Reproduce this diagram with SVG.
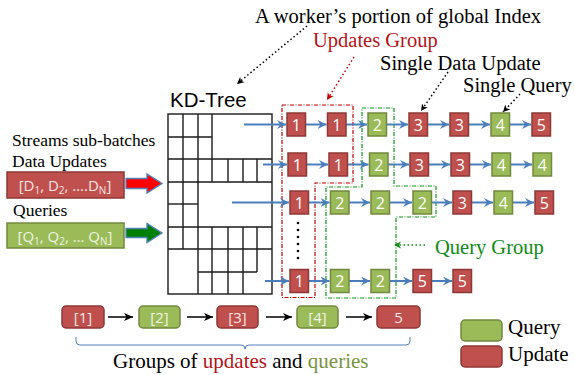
<svg xmlns="http://www.w3.org/2000/svg" width="574" height="375" viewBox="0 0 574 375">
<style>
.u{fill:#c0504d;stroke:#8c3836;stroke-width:1.5}
.q{fill:#9bbb59;stroke:#71893f;stroke-width:1.5}
.bt{font-family:"Open Sans","Liberation Sans",sans-serif;font-size:16px;fill:#fff;text-anchor:middle}
.lt{font-family:"Open Sans","Liberation Sans",sans-serif;font-size:15px;text-anchor:middle}
.sf{font-family:"Liberation Serif","Times New Roman",serif}
.flow{stroke:#4a7ebb;stroke-width:2;fill:none;marker-end:url(#ab)}
.blk{stroke:#000;stroke-width:1.5;fill:none;marker-end:url(#ak)}
.grid line{stroke:#1a1a1a;stroke-width:1.4}
.dot{stroke-width:1.5;stroke-dasharray:1.5 2.5;fill:none}
</style>
<defs>
<marker id="ab" markerUnits="userSpaceOnUse" markerWidth="10" markerHeight="9" refX="9" refY="4.5" orient="auto"><path d="M0,0 L9,4.5 L0,9 L3,4.5 z" fill="#4a7ebb"/></marker>
<marker id="ak" markerUnits="userSpaceOnUse" markerWidth="10" markerHeight="8" refX="9" refY="4" orient="auto"><path d="M0,0 L9,4 L0,8 L2.5,4 z" fill="#000"/></marker>
<marker id="dk" markerUnits="userSpaceOnUse" markerWidth="8" markerHeight="8" refX="7" refY="4" orient="auto"><path d="M0,0.5 L7,4 L0,7.5 L2,4 z" fill="#000"/></marker>
<marker id="dr" markerUnits="userSpaceOnUse" markerWidth="8" markerHeight="8" refX="7" refY="4" orient="auto"><path d="M0,0.5 L7,4 L0,7.5 L2,4 z" fill="#c00000"/></marker>
<marker id="dg" markerUnits="userSpaceOnUse" markerWidth="8" markerHeight="8" refX="7" refY="4" orient="auto"><path d="M0,0.5 L7,4 L0,7.5 L2,4 z" fill="#0e8a16"/></marker>
</defs>
<rect width="574" height="375" fill="#fff"/>

<!-- top labels -->
<g id="labels" class="sf">
<text x="255" y="23" font-size="20.5" fill="#000">A worker’s portion of global Index</text>
<text x="313" y="47" font-size="20.5" fill="#b3141a">Updates Group</text>
<text x="380" y="70" font-size="20.5" fill="#000">Single Data Update</text>
<text x="463" y="92" font-size="20.5" fill="#000">Single Query</text>
<text x="435" y="254" font-size="20.5" fill="#0e8a16">Query Group</text>
<text x="12" y="145.5" font-size="17.5" fill="#000">Streams sub-batches</text>
<text x="12" y="166.5" font-size="17.5" fill="#000">Data Updates</text>
<text x="13" y="216" font-size="17.5" fill="#000">Queries</text>
<text x="113" y="368" font-size="21" fill="#000">Groups of <tspan fill="#b3141a">updates</tspan> and <tspan fill="#77933c">queries</tspan></text>
</g>

<!-- KD-tree -->
<g id="kdtree">
<text x="170" y="106.5" font-family="Liberation Sans, Arial, sans-serif" font-size="20.5" fill="#000">KD-Tree</text>
<rect x="168" y="114" width="104" height="180" fill="#fff" stroke="#1a1a1a" stroke-width="1.4"/>
<g class="grid">
<line x1="168" y1="137" x2="212" y2="137"/>
<line x1="168" y1="159" x2="272" y2="159"/>
<line x1="168" y1="182" x2="272" y2="182"/>
<line x1="168" y1="204" x2="198" y2="204"/>
<line x1="168" y1="227" x2="272" y2="227"/>
<line x1="168" y1="249" x2="272" y2="249"/>
<line x1="198" y1="272" x2="257" y2="272"/>
<line x1="183" y1="114" x2="183" y2="249"/>
<line x1="198" y1="114" x2="198" y2="294"/>
<line x1="212" y1="114" x2="212" y2="182"/>
<line x1="212" y1="227" x2="212" y2="294"/>
<line x1="228" y1="159" x2="228" y2="182"/>
<line x1="228" y1="227" x2="228" y2="294"/>
<line x1="243" y1="159" x2="243" y2="182"/>
<line x1="243" y1="227" x2="243" y2="294"/>
<line x1="257" y1="159" x2="257" y2="182"/>
<line x1="257" y1="227" x2="257" y2="272"/>
</g>
</g>

<!-- input boxes -->
<g id="updates-in">
<rect x="7" y="172" width="117" height="26" class="u"/>
<text x="65" y="191" class="lt" fill="#f6e4e4">[D<tspan font-size="10" dy="3">1</tspan><tspan dy="-3">, D</tspan><tspan font-size="10" dy="3">2</tspan><tspan dy="-3">, ….D</tspan><tspan font-size="10" dy="3">N</tspan><tspan dy="-3">]</tspan></text>
<polygon points="126,178.5 147,178.5 147,174 162,183.5 147,193 147,188.5 126,188.5" fill="#ff0000" stroke="#4f81bd" stroke-width="1.3"/>
</g>
<g id="queries-in">
<rect x="7" y="223" width="117" height="25" class="q"/>
<text x="65" y="241.5" class="lt" fill="#eef3e2">[Q<tspan font-size="10" dy="3">1</tspan><tspan dy="-3">, Q</tspan><tspan font-size="10" dy="3">2</tspan><tspan dy="-3">, … Q</tspan><tspan font-size="10" dy="3">N</tspan><tspan dy="-3">]</tspan></text>
<polygon points="126,228.5 147,228.5 147,223.5 162,233 147,242.5 147,237.5 126,237.5" fill="#008000" stroke="#4f81bd" stroke-width="1.3"/>
</g>

<!-- groups -->
<g id="update-group">
<polygon points="282,105 353,105 353,183 315,183 315,297.5 282,297.5" fill="none" stroke="#c00000" stroke-width="1.2" stroke-dasharray="4 1.5 1 1.5"/>
</g>
<g id="query-group">
<polygon points="362,108 394,108 394,186 436,186 436,217 396,217 396,298 326,298 326,187 362,187" fill="none" stroke="#0e9a16" stroke-width="1.2" stroke-dasharray="4 1.5 1 1.5"/>
</g>

<!-- connectors -->
<g id="connectors">
<line x1="244" y1="124.5" x2="286" y2="124.5" class="flow"/>
<line x1="305.5" y1="124.5" x2="326.5" y2="124.5" class="flow"/>
<line x1="346" y1="124.5" x2="367" y2="124.5" class="flow"/>
<line x1="386.5" y1="124.5" x2="408" y2="124.5" class="flow"/>
<line x1="427.5" y1="124.5" x2="449" y2="124.5" class="flow"/>
<line x1="468.5" y1="124.5" x2="490" y2="124.5" class="flow"/>
<line x1="509.5" y1="124.5" x2="531" y2="124.5" class="flow"/>

<line x1="263" y1="164.5" x2="287" y2="164.5" class="flow"/>
<line x1="306.5" y1="164.5" x2="328" y2="164.5" class="flow"/>
<line x1="347.5" y1="164.5" x2="368.5" y2="164.5" class="flow"/>
<line x1="388" y1="164.5" x2="409" y2="164.5" class="flow"/>
<line x1="428.5" y1="164.5" x2="450" y2="164.5" class="flow"/>
<line x1="469.5" y1="164.5" x2="491" y2="164.5" class="flow"/>
<line x1="510.5" y1="164.5" x2="532" y2="164.5" class="flow"/>

<line x1="232" y1="202.5" x2="289" y2="202.5" class="flow"/>
<line x1="308.5" y1="202.5" x2="329.5" y2="202.5" class="flow"/>
<line x1="349" y1="202.5" x2="370" y2="202.5" class="flow"/>
<line x1="389.5" y1="202.5" x2="412" y2="202.5" class="flow"/>
<line x1="431.5" y1="202.5" x2="452" y2="202.5" class="flow"/>
<line x1="471.5" y1="202.5" x2="493" y2="202.5" class="flow"/>
<line x1="512.5" y1="202.5" x2="534" y2="202.5" class="flow"/>

<line x1="265" y1="281" x2="289" y2="281" class="flow"/>
<line x1="308.5" y1="281" x2="329.5" y2="281" class="flow"/>
<line x1="349" y1="281" x2="370" y2="281" class="flow"/>
<line x1="389.5" y1="281" x2="412" y2="281" class="flow"/>
<line x1="431.5" y1="281" x2="452" y2="281" class="flow"/>

<line x1="108" y1="317" x2="133" y2="317" class="blk"/>
<line x1="187" y1="317" x2="213" y2="317" class="blk"/>
<line x1="266" y1="317" x2="292" y2="317" class="blk"/>
<line x1="346" y1="317" x2="372" y2="317" class="blk"/>

<path d="M307,26 L237,84" class="dot" stroke="#000" marker-end="url(#dk)"/>
<path d="M354,57 L327,100" class="dot" stroke="#c00000" marker-end="url(#dr)"/>
<path d="M448,72 L421,111" class="dot" stroke="#000" marker-end="url(#dk)"/>
<path d="M520,94 L503,112" class="dot" stroke="#000" marker-end="url(#dk)"/>
<path d="M425,245 L394,245" class="dot" stroke="#0e8a16" marker-end="url(#dg)"/>

<path d="M76,337 L76,341 Q76,345 80,345 L241,345 Q245,345 245,349 Q245,345 249,345 L406,345 Q410,345 410,341 L410,337" fill="none" stroke="#4f81bd" stroke-width="1"/>
</g>

<!-- row 1 -->
<g id="r1n1"><rect x="287" y="113" width="18.5" height="23" class="u"/><text x="296.25" y="130.5" class="bt">1</text></g>
<g id="r1n2"><rect x="327.5" y="113" width="18.5" height="23" class="u"/><text x="336.75" y="130.5" class="bt">1</text></g>
<g id="r1n3"><rect x="368" y="113" width="18.5" height="23" class="q"/><text x="377.25" y="130.5" class="bt">2</text></g>
<g id="r1n4"><rect x="409" y="113" width="18.5" height="23" class="u"/><text x="418.25" y="130.5" class="bt">3</text></g>
<g id="r1n5"><rect x="450" y="113" width="18.5" height="23" class="u"/><text x="459.25" y="130.5" class="bt">3</text></g>
<g id="r1n6"><rect x="491" y="113" width="18.5" height="23" class="q"/><text x="500.25" y="130.5" class="bt">4</text></g>
<g id="r1n7"><rect x="532" y="113" width="18.5" height="23" class="u"/><text x="541.25" y="130.5" class="bt">5</text></g>
<!-- row 2 -->
<g id="r2n1"><rect x="288" y="153" width="18.5" height="23" class="u"/><text x="297.25" y="170.5" class="bt">1</text></g>
<g id="r2n2"><rect x="329" y="153" width="18.5" height="23" class="u"/><text x="338.25" y="170.5" class="bt">1</text></g>
<g id="r2n3"><rect x="369.5" y="153" width="18.5" height="23" class="q"/><text x="378.75" y="170.5" class="bt">2</text></g>
<g id="r2n4"><rect x="410" y="153" width="18.5" height="23" class="u"/><text x="419.25" y="170.5" class="bt">3</text></g>
<g id="r2n5"><rect x="451" y="153" width="18.5" height="23" class="u"/><text x="460.25" y="170.5" class="bt">3</text></g>
<g id="r2n6"><rect x="492" y="153" width="18.5" height="23" class="q"/><text x="501.25" y="170.5" class="bt">4</text></g>
<g id="r2n7"><rect x="533" y="153" width="18.5" height="23" class="q"/><text x="542.25" y="170.5" class="bt">4</text></g>
<!-- row 3 -->
<g id="r3n1"><rect x="290" y="191" width="18.5" height="23" class="u"/><text x="299.25" y="208.5" class="bt">1</text></g>
<g id="r3n2"><rect x="330.5" y="191" width="18.5" height="23" class="q"/><text x="339.75" y="208.5" class="bt">2</text></g>
<g id="r3n3"><rect x="371" y="191" width="18.5" height="23" class="q"/><text x="380.25" y="208.5" class="bt">2</text></g>
<g id="r3n4"><rect x="413" y="191" width="18.5" height="23" class="q"/><text x="422.25" y="208.5" class="bt">2</text></g>
<g id="r3n5"><rect x="453" y="191" width="18.5" height="23" class="u"/><text x="462.25" y="208.5" class="bt">3</text></g>
<g id="r3n6"><rect x="494" y="191" width="18.5" height="23" class="q"/><text x="503.25" y="208.5" class="bt">4</text></g>
<g id="r3n7"><rect x="535" y="191" width="18.5" height="23" class="u"/><text x="544.25" y="208.5" class="bt">5</text></g>
<!-- ellipsis -->
<g id="ellipsis" fill="#000">
<circle cx="298" cy="223" r="1.3"/><circle cx="298" cy="230" r="1.3"/><circle cx="298" cy="237" r="1.3"/><circle cx="298" cy="244" r="1.3"/><circle cx="298" cy="251" r="1.3"/><circle cx="298" cy="258" r="1.3"/>
</g>
<!-- row 4 -->
<g id="r4n1"><rect x="290" y="269.5" width="18.5" height="23" class="u"/><text x="299.25" y="287" class="bt">1</text></g>
<g id="r4n2"><rect x="330.5" y="269.5" width="18.5" height="23" class="q"/><text x="339.75" y="287" class="bt">2</text></g>
<g id="r4n3"><rect x="371" y="269.5" width="18.5" height="23" class="q"/><text x="380.25" y="287" class="bt">2</text></g>
<g id="r4n4"><rect x="413" y="269.5" width="18.5" height="23" class="u"/><text x="422.25" y="287" class="bt">5</text></g>
<g id="r4n5"><rect x="453" y="269.5" width="18.5" height="23" class="u"/><text x="462.25" y="287" class="bt">5</text></g>

<!-- bottom sequence -->
<g id="s1"><rect x="62" y="306" width="42" height="22" rx="4" class="u"/><text x="83" y="322.5" class="lt" fill="#f6e4e4">[1]</text></g>
<g id="s2"><rect x="139" y="306" width="41" height="22" rx="4" class="q"/><text x="159.5" y="322.5" class="lt" fill="#eef3e2">[2]</text></g>
<g id="s3"><rect x="217" y="306" width="41" height="22" rx="4" class="u"/><text x="237.5" y="322.5" class="lt" fill="#f6e4e4">[3]</text></g>
<g id="s4"><rect x="297" y="306" width="41" height="22" rx="4" class="q"/><text x="317.5" y="322.5" class="lt" fill="#eef3e2">[4]</text></g>
<g id="s5"><rect x="377" y="306" width="43" height="22" rx="4" class="u"/><text x="398.5" y="322.5" class="lt" fill="#f6e4e4">5</text></g>

<!-- legend -->
<g id="legend-query"><rect x="461" y="320" width="41" height="21" rx="4" class="q"/><text x="508" y="334" class="sf" font-size="21" fill="#000">Query</text></g>
<g id="legend-update"><rect x="461" y="346" width="41" height="21" rx="4" class="u"/><text x="508" y="361" class="sf" font-size="21" fill="#000">Update</text></g>
</svg>
